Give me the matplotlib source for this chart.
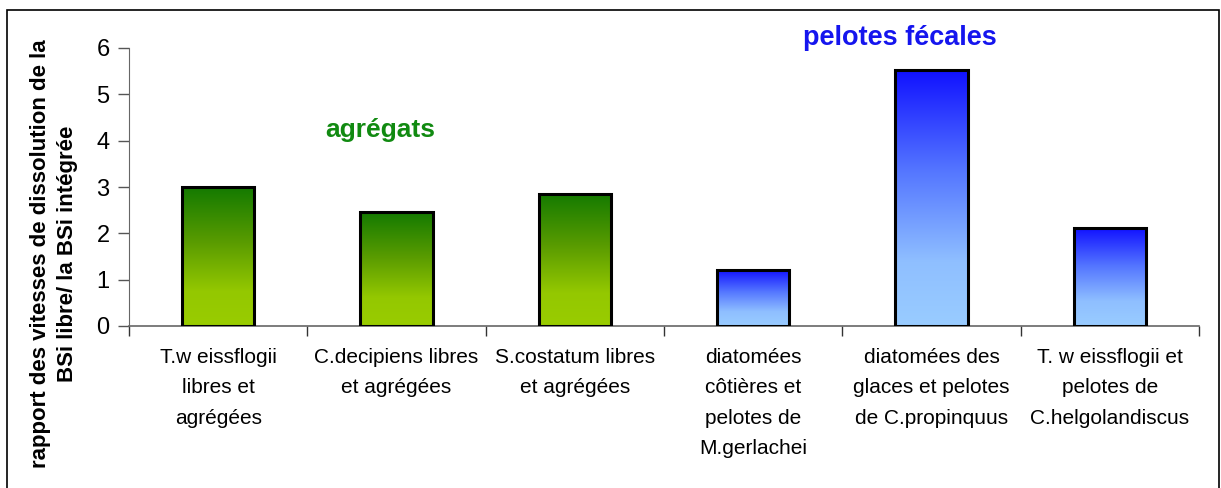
import numpy as np
import matplotlib
matplotlib.use("Agg")
import matplotlib.pyplot as plt
from matplotlib.colors import LinearSegmentedColormap
from matplotlib.patches import Rectangle

categories = [
    "T.w eissflogii\nlibres et\nagrégées",
    "C.decipiens libres\net agrégées",
    "S.costatum libres\net agrégées",
    "diatomées\ncôtières et\npelotes de\nM.gerlachei",
    "diatomées des\nglaces et pelotes\nde C.propinquus",
    "T. w eissflogii et\npelotes de\nC.helgolandiscus",
]
values = [3.0, 2.46, 2.85, 1.21, 5.53, 2.12]
groups = ["agrégats", "agrégats", "agrégats", "pelotes fécales", "pelotes fécales", "pelotes fécales"]
yticks = [0, 1, 2, 3, 4, 5, 6]

green_cmap = LinearSegmentedColormap.from_list("g", [(0.0, "#99cc00"), (0.25, "#94c800"), (0.6, "#5a9c00"), (1.0, "#147a00")])
blue_cmap = LinearSegmentedColormap.from_list("b", [(0.0, "#99ccff"), (0.25, "#8fbfff"), (0.6, "#5577ff"), (1.0, "#1010ff")])

fig = plt.figure(figsize=(12.21, 4.88), dpi=100)
fig.patches.append(Rectangle((7 / 1221, -0.05), 1212 / 1221, 1.05 - 10 / 488, transform=fig.transFigure,
                             fill=False, edgecolor="black", linewidth=1.2))
ax = fig.add_axes([129 / 1221, 1 - 326 / 488, (1199 - 129) / 1221, (326 - 48) / 488])

x = np.arange(len(categories))
bars = ax.bar(x, values, width=0.405, facecolor="none", edgecolor="black", linewidth=2.2, zorder=3)
grad = np.linspace(0, 1, 256).reshape(-1, 1)
for b, g in zip(bars, groups):
    x0, y0 = b.get_x(), b.get_y()
    w, h = b.get_width(), b.get_height()
    cmap = green_cmap if g == "agrégats" else blue_cmap
    ax.imshow(grad, extent=(x0, x0 + w, y0, y0 + h), origin="lower", cmap=cmap,
              aspect="auto", zorder=2, interpolation="bilinear")

ax.set_xlim(-0.5, len(categories) - 0.5)
ax.set_ylim(0, 6)
ax.set_yticks(yticks)
ax.set_yticklabels([str(t) for t in yticks], fontsize=17, family=["Liberation Sans", "DejaVu Sans"])
ax.tick_params(axis="y", direction="out", length=8, width=1, color="#555555", pad=6)

ax.set_xticks(x)
ax.set_xticklabels(categories, fontsize=15, family=["Liberation Sans", "DejaVu Sans"],
                   linespacing=1.75, va="top")
ax.tick_params(axis="x", which="major", length=0, pad=16)
ax.set_xticks(np.arange(-0.5, len(categories), 1.0), minor=True)
ax.tick_params(axis="x", which="minor", direction="out", length=7, width=1, color="#333333")

for s in ["top", "right"]:
    ax.spines[s].set_visible(False)
ax.spines["left"].set_color("#666666")
ax.spines["bottom"].set_color("#666666")
ax.spines["bottom"].set_linewidth(1.2)

fig.text(54 / 1221, 1 - 254 / 488, "rapport des vitesses de dissolution de la\nBSi libre/ la BSi intégrée",
         rotation=90, ha="center", va="center", multialignment="center", fontsize=16,
         fontweight="bold", family=["Liberation Sans", "DejaVu Sans"], linespacing=1.35)

fig.text(380 / 1221, 1 - 130 / 488, "agrégats", ha="center", va="center",
         fontsize=19, fontweight="bold", color="#118a11", family=["Liberation Sans", "DejaVu Sans"])
fig.text(900 / 1221, 1 - 38 / 488, "pelotes fécales", ha="center", va="center",
         fontsize=19.5, fontweight="bold", color="#1515ee", family=["Liberation Sans", "DejaVu Sans"])

fig.savefig("out.png", dpi=100)
